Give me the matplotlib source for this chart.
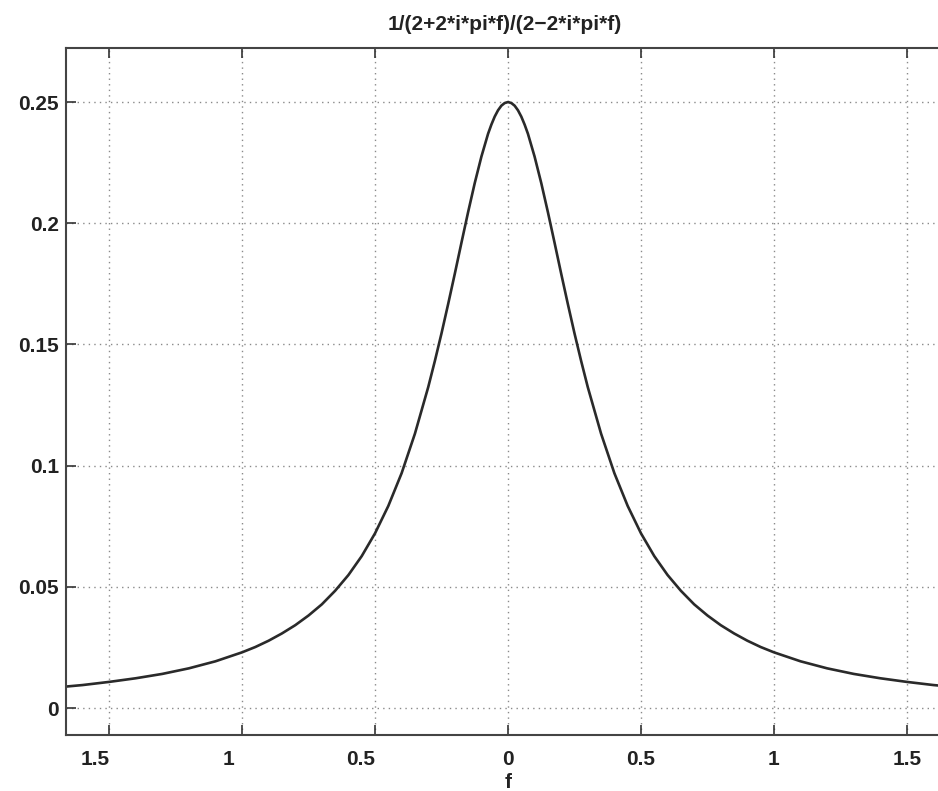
import matplotlib
matplotlib.use("Agg")
import matplotlib.pyplot as plt
from matplotlib.transforms import ScaledTranslation

# Frequency samples (positive half; the curve is symmetric about f = 0)
f_pos = [0.0, 0.0125, 0.025, 0.0375, 0.05, 0.0625, 0.075, 0.1, 0.125, 0.15,
         0.175, 0.2, 0.225, 0.25, 0.275, 0.3, 0.35, 0.4, 0.45, 0.5, 0.55,
         0.6, 0.65, 0.7, 0.75, 0.8, 0.85, 0.9, 0.95, 1.0, 1.1, 1.2, 1.3,
         1.4, 1.5, 1.6, 1.7]
mag_pos = [0.25, 0.2496, 0.2485, 0.2466, 0.2440, 0.2407, 0.2369, 0.2275,
           0.2166, 0.2046, 0.1920, 0.1792, 0.1667, 0.1546, 0.1432, 0.1324,
           0.1132, 0.0969, 0.0834, 0.0721, 0.0627, 0.0549, 0.0484, 0.0428,
           0.0382, 0.0342, 0.0308, 0.0278, 0.0252, 0.0230, 0.0193, 0.0164,
           0.0141, 0.0123, 0.0108, 0.0095, 0.0085]

f_vals = [-x for x in reversed(f_pos[1:])] + f_pos
mag_vals = list(reversed(mag_pos[1:])) + mag_pos

x_ticks = [-1.5, -1.0, -0.5, 0.0, 0.5, 1.0, 1.5]
x_tick_labels = ["1.5", "1", "0.5", "0", "0.5", "1", "1.5"]
y_ticks = [0.0, 0.05, 0.1, 0.15, 0.2, 0.25]
y_tick_labels = ["0", "0.05", "0.1", "0.15", "0.2", "0.25"]
title_text = "1/(2+2*i*pi*f)/(2\u22122*i*pi*f)"
x_label = "f"

plt.rcParams['font.family'] = ['Liberation Sans', 'DejaVu Sans']

W, H = 938, 791
fig = plt.figure(figsize=(W / 100, H / 100), dpi=100)
fig.patch.set_facecolor('white')
left_px, right_px, top_px, bot_px = 66, 950, 48, 735
ax = fig.add_axes([left_px / W, 1 - bot_px / H,
                   (right_px - left_px) / W, (bot_px - top_px) / H])

ax.plot(f_vals, mag_vals, color='#2a2a2a', linewidth=1.9)

ax.set_xlim(-1.662, 1.662)
ax.set_ylim(-0.0111, 0.2723)
ax.set_xticks(x_ticks)
ax.set_xticklabels(x_tick_labels)
ax.set_yticks(y_ticks)
ax.set_yticklabels(y_tick_labels)

ax.grid(True, linestyle=(0, (1, 3)), color='#8a8a8a', linewidth=1.0)
ax.tick_params(direction='in', length=7, width=1.2, colors='#333333',
               labelsize=15, labelcolor='#222222', top=True, right=True)
ax.tick_params(axis='x', pad=11)
ax.tick_params(axis='y', pad=5)
for lab in ax.get_xticklabels() + ax.get_yticklabels():
    lab.set_fontweight('bold')

# left-half labels sit slightly left of their ticks in the reference
for tick_val, lab in zip(x_ticks, ax.get_xticklabels()):
    if tick_val < 0:
        lab.set_transform(lab.get_transform() +
                          ScaledTranslation(-14 / 100, 0, fig.dpi_scale_trans))

for s in ax.spines.values():
    s.set_color('#444444')
    s.set_linewidth(1.5)

fig.text(505 / W, 1 - 25 / H, title_text, fontsize=15, fontweight='bold',
         color='#222222', ha='center', va='center')
fig.text(508 / W, 1 - 783 / H, x_label, fontsize=15, fontweight='bold',
         color='#222222', ha='center', va='center')

fig.savefig("out.png", dpi=100, facecolor='white')
